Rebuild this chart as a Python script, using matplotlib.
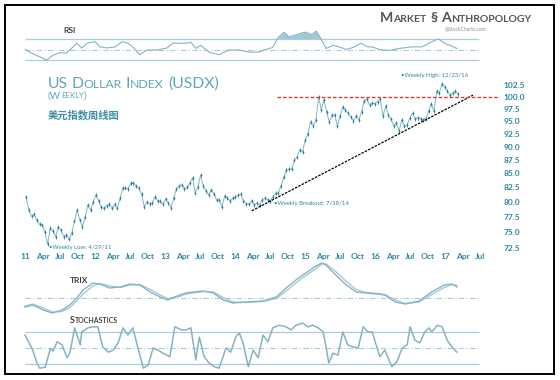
import numpy as np
import matplotlib
matplotlib.use('Agg')
import matplotlib.pyplot as plt
from matplotlib.patches import Rectangle
from matplotlib.ticker import FixedLocator, NullLocator, FixedFormatter

# ---------------- data ----------------
# US Dollar Index, bi-weekly closes starting 2011-01-07
price_start_day = 6          # day-of-year offset of first bar (Jan 7, 2011)
price_step_days = 14
usdx_close = [
    # 2011
    80.9, 78.6, 77.6, 77.9, 76.9, 76.3, 76.2, 75.0, 73.1, 75.7, 75.2, 74.3, 75.8,
    75.3, 74.3, 74.6, 73.9, 74.8, 76.8, 78.6, 77.0, 75.9, 77.5, 79.5, 78.6, 80.0,
    # 2012
    81.2, 80.2, 79.1, 78.9, 79.3, 79.6, 78.9, 79.6, 78.9, 80.6, 82.4, 82.4, 82.3,
    83.2, 83.3, 82.7, 82.4, 81.3, 79.2, 79.9, 79.7, 79.8, 80.9, 80.2, 80.1, 79.6,
    # 2013
    80.5, 79.8, 79.0, 80.7, 82.2, 82.7, 83.0, 82.2, 82.5, 83.3, 84.2, 81.6, 82.5,
    84.7, 82.7, 81.9, 81.2, 82.1, 81.4, 80.3, 80.4, 79.2, 81.0, 80.6, 80.2, 80.6,
    # 2014
    80.8, 81.2, 81.3, 80.2, 79.7, 79.6, 80.2, 79.5, 79.8, 79.4, 80.4, 80.6, 80.4,
    80.2, 80.9, 81.5, 81.5, 82.8, 84.3, 85.7, 85.8, 85.8, 87.5, 88.0, 89.4, 89.0,
    # 2015
    91.2, 92.5, 94.8, 94.1, 95.3, 100.0, 97.3, 99.4, 96.9, 94.8, 96.2, 96.3, 94.0,
    96.0, 97.9, 97.3, 96.6, 95.8, 95.1, 96.1, 95.2, 96.9, 99.2, 99.6, 98.3, 98.7,
    # 2016
    98.6, 99.0, 99.6, 96.0, 98.1, 96.2, 95.4, 94.1, 94.6, 93.0, 95.3, 94.0, 94.2,
    95.6, 96.6, 95.5, 95.7, 95.5, 95.3, 95.5, 97.0, 98.6, 97.1, 101.2, 100.8, 102.9,
    # 2017
    102.2, 101.3, 100.4, 100.8, 101.2, 100.6,
]

# trend line and resistance (date in decimal years, level)
trend_t = [2014.24, 2017.40]
trend_v = [78.5, 100.4]
resist_t = [2014.60, 2017.80]
resist_v = [100.0, 100.0]

# RSI
rsi_t = [2011.00, 2011.11, 2011.21, 2011.31, 2011.40, 2011.50, 2011.59, 2011.67, 2011.74,
         2011.81, 2011.89, 2012.00, 2012.07, 2012.17, 2012.29, 2012.39, 2012.47, 2012.54,
         2012.64, 2012.74, 2012.89, 2013.03, 2013.11, 2013.21, 2013.30, 2013.37, 2013.44,
         2013.51, 2013.63, 2013.77, 2013.91, 2014.06, 2014.20, 2014.33, 2014.44, 2014.54,
         2014.61, 2014.70, 2014.77, 2014.87, 2014.94, 2015.01, 2015.09, 2015.16, 2015.23,
         2015.30, 2015.40, 2015.49, 2015.59, 2015.69, 2015.80, 2015.90, 2015.96, 2016.06,
         2016.20, 2016.34, 2016.53, 2016.67, 2016.77, 2016.86, 2016.91, 2016.99, 2017.07,
         2017.17]
rsi_v = [50, 42, 36, 30, 39, 44, 43, 53, 62,
         53, 62, 65, 55, 53, 55, 65, 62, 55,
         40, 49, 49, 53, 62, 62, 62, 64, 52,
         58, 45, 40, 49, 49, 45, 45, 50, 54,
         72, 83, 74, 78, 81, 83, 78, 85, 70,
         52, 58, 55, 50, 54, 62, 55, 55, 50,
         48, 52, 55, 55, 62, 68, 70, 62, 58,
         52]

# TRIX and its signal line
trix_t = [2011.00, 2011.11, 2011.26, 2011.39, 2011.53, 2011.64, 2011.74, 2011.83, 2011.97,
          2012.07, 2012.21, 2012.36, 2012.50, 2012.64, 2012.79, 2012.93, 2013.04, 2013.21,
          2013.30, 2013.54, 2013.69, 2013.83, 2013.97, 2014.16, 2014.40, 2014.59, 2014.73,
          2014.87, 2015.01, 2015.16, 2015.24, 2015.30, 2015.44, 2015.59, 2015.73, 2015.87,
          2016.03, 2016.14, 2016.29, 2016.43, 2016.63, 2016.81, 2016.99, 2017.10, 2017.17]
trix_v = [-0.18, -0.14, -0.24, -0.30, -0.24, -0.14, 0.00, 0.16, 0.30,
          0.28, 0.20, 0.22, 0.28, 0.26, 0.12, 0.02, -0.04, 0.06,
          0.10, 0.14, 0.10, -0.04, -0.10, -0.08, -0.06, 0.02, 0.20,
          0.36, 0.50, 0.64, 0.70, 0.66, 0.46, 0.26, 0.12, 0.10,
          0.08, 0.06, -0.08, -0.12, -0.06, 0.12, 0.26, 0.28, 0.22]
trix_sig = [-0.16, -0.12, -0.20, -0.28, -0.27, -0.19, -0.06, 0.08, 0.24,
            0.29, 0.24, 0.21, 0.26, 0.27, 0.17, 0.06, -0.01, 0.03,
            0.08, 0.13, 0.12, 0.01, -0.08, -0.09, -0.07, -0.01, 0.14,
            0.30, 0.45, 0.59, 0.68, 0.68, 0.53, 0.33, 0.17, 0.11,
            0.09, 0.07, -0.04, -0.11, -0.08, 0.07, 0.21, 0.27, 0.25]

# Stochastics
sto_t = [2011.00, 2011.04, 2011.11, 2011.17, 2011.21, 2011.29, 2011.36, 2011.40, 2011.46,
         2011.53, 2011.60, 2011.64, 2011.71, 2011.79, 2011.81, 2011.90, 2011.97, 2012.04,
         2012.11, 2012.19, 2012.26, 2012.33, 2012.40, 2012.47, 2012.54, 2012.61, 2012.69,
         2012.76, 2012.83, 2012.90, 2012.97, 2013.07, 2013.14, 2013.24, 2013.30, 2013.37,
         2013.44, 2013.49, 2013.56, 2013.63, 2013.70, 2013.77, 2013.83, 2013.87, 2013.94,
         2014.01, 2014.06, 2014.11, 2014.19, 2014.26, 2014.33, 2014.40, 2014.47, 2014.54,
         2014.63, 2014.73, 2014.80, 2014.87, 2014.97, 2015.04, 2015.11, 2015.19, 2015.26,
         2015.30, 2015.34, 2015.40, 2015.47, 2015.54, 2015.61, 2015.69, 2015.76, 2015.83,
         2015.90, 2015.96, 2016.03, 2016.07, 2016.14, 2016.24, 2016.31, 2016.39, 2016.46,
         2016.50, 2016.57, 2016.64, 2016.71, 2016.77, 2016.81, 2016.89, 2016.96, 2017.03,
         2017.10, 2017.17]
sto_v = [75, 65, 46, 21, 11, 13, 48, 44, 62,
         56, 31, 40, 89, 56, 81, 89, 91, 91,
         52, 42, 46, 60, 89, 75, 89, 52, 11,
         17, 50, 46, 40, 33, 91, 85, 85, 89,
         27, 71, 33, 21, 14, 11, 33, 50, 42,
         71, 79, 62, 14, 46, 31, 75, 62, 89,
         94, 91, 85, 94, 98, 91, 94, 89, 81,
         52, 21, 40, 36, 81, 56, 52, 50, 91,
         81, 81, 50, 33, 46, 14, 23, 50, 56,
         91, 65, 60, 81, 89, 81, 94, 91, 65,
         52, 42]

x_labels = ['11', 'Apr', 'Jul', 'Oct', '12', 'Apr', 'Jul', 'Oct', '13', 'Apr', 'Jul', 'Oct',
            '14', 'Apr', 'Jul', 'Oct', '15', 'Apr', 'Jul', 'Oct', '16', 'Apr', 'Jul', 'Oct',
            '17', 'Apr', 'Jul']
y_ticks = [72.5, 75.0, 77.5, 80.0, 82.5, 85.0, 87.5, 90.0, 92.5, 95.0, 97.5, 100.0, 102.5]

# ---------------- layout helpers ----------------
W, H = 560, 380
fig = plt.figure(figsize=(W / 100, H / 100), dpi=100)
fig.patch.set_facecolor('white')

TEAL = '#2d86a3'
TITLE = '#5fa6bb'
PRICE = '#4a98b1'
IND = '#86b3c3'
REF = '#a9cdd9'
LABEL = '#404040'
FONT = 'Lato'


def t_of_px(px):
    return 2011 + (px - 25) / 70.0


XL = (t_of_px(20), t_of_px(500))


def add_ax(x0, y0, x1, y1):
    ax = fig.add_axes([x0 / W, 1 - y1 / H, (x1 - x0) / W, (y1 - y0) / H])
    ax.set_facecolor('none')
    for s in ax.spines.values():
        s.set_visible(False)
    ax.set_xlim(XL)
    ax.tick_params(left=False, bottom=False, labelleft=False, labelbottom=False)
    return ax


def ftext(x, y, s, **kw):
    return fig.text(x / W, 1 - y / H, s, **kw)


renderer = fig.canvas.get_renderer()


def smallcaps(x, y, parts, big, small, color, weight='normal', family=FONT):
    cx = x
    for p in parts:
        if isinstance(p, (int, float)):
            cx += p
            continue
        s, isbig = p
        t = ftext(cx, y, s, fontsize=big if isbig else small, color=color,
                  va='baseline', ha='left', fontweight=weight, family=family)
        bb = t.get_window_extent(renderer=renderer)
        cx += bb.width


# ---------------- RSI panel ----------------
ax_rsi = add_ax(20, 30, 500, 66)
rsi_lo_v = 30 - (66 - 60) * 40 / 21
rsi_hi_v = 70 + (39 - 30) * 40 / 21
ax_rsi.set_ylim(rsi_lo_v, rsi_hi_v)
x_end = t_of_px(479)
ax_rsi.hlines([30, 70], 2011.0, x_end, color=REF, lw=0.9)
ax_rsi.hlines([50], 2011.0, x_end, color=REF, lw=0.8, linestyles=(0, (5, 2, 1, 2)))
rv = np.array(rsi_v, dtype=float)
ax_rsi.fill_between(rsi_t, 70, rv, where=rv > 70, interpolate=True, color='#a3c7d3', lw=0)
ax_rsi.plot(rsi_t, rsi_v, color=IND, lw=0.8)

# ---------------- main price panel ----------------
ax = add_ax(20, 65, 500, 250)
ax.set_yscale('log')
ax.set_ylim(100 * np.exp((97 - 250) / 470), 100 * np.exp((97 - 65) / 470))
pt = 2011 + (price_start_day + price_step_days * np.arange(len(usdx_close))) / 365.25
ax.plot(pt, usdx_close, color=PRICE, lw=0.7, alpha=0.7)
ax.plot(pt, usdx_close, ls='none', marker='|', ms=3.5, mew=0.7, color=PRICE)
ax.plot(pt, usdx_close, ls='none', marker='o', ms=1.3, mew=0, color='#2a7892')
ax.plot(trend_t, trend_v, color='black', lw=0.9, ls=(0, (2, 1)))
ax.plot(resist_t, resist_v, color='#e2352f', lw=1.0, ls=(0, (2.5, 1.5)))

ax.yaxis.tick_right()
ax.tick_params(right=False, labelright=True, labelbottom=True, length=0, pad=2.5)
ax.yaxis.set_major_locator(FixedLocator(y_ticks))
ax.yaxis.set_major_formatter(FixedFormatter(['%.1f' % v for v in y_ticks]))
ax.yaxis.set_minor_locator(NullLocator())
x_ticks = [2011 + 0.25 * i for i in range(len(x_labels))]
ax.xaxis.set_major_locator(FixedLocator(x_ticks))
ax.xaxis.set_major_formatter(FixedFormatter(x_labels))
for lab in ax.get_xticklabels() + ax.get_yticklabels():
    lab.set_fontsize(6.0)
    lab.set_fontweight('bold')
    lab.set_color(TEAL)
    lab.set_family(FONT)
for lab in ax.get_yticklabels():
    lab.set_ha('left')

# ---------------- TRIX panel ----------------
ax_tr = add_ax(20, 260, 500, 318)
ax_tr.set_ylim((298 - 318) * 0.02, (298 - 260) * 0.02)
ax_tr.hlines([0], 2011.0, x_end, color=REF, lw=0.8, linestyles=(0, (5, 2, 1, 2)))
ax_tr.plot(trix_t, trix_sig, color='#a6c9d5', lw=1.0)
ax_tr.plot(trix_t, trix_v, color=IND, lw=1.0)

# ---------------- Stochastics panel ----------------
ax_st = add_ax(20, 318, 500, 374)
ax_st.set_ylim(50 - 26 / 0.517, 50 + 30 / 0.517)
ax_st.hlines([20, 80], 2011.0, x_end, color=REF, lw=0.9)
ax_st.hlines([50], 2011.0, x_end, color=REF, lw=0.8, linestyles=(0, (5, 2, 1, 2)))
ax_st.plot(sto_t, sto_v, color=IND, lw=1.1)

# ---------------- texts ----------------
smallcaps(48, 88, [('US', True), 3.5, ('D', True), ('OLLAR', False), 4, ('I', True),
                   ('NDEX', False), 4, ('(USDX)', True)], 11.3, 8.8, TITLE)
smallcaps(48, 98.5, [('(W', True), ('EEKLY', False), (')', True)], 7.2, 5.6, TITLE)
ftext(48, 115, '美元指数周线图', fontsize=7.4, fontweight='bold', color='#3d8ea8',
      family=['Noto Sans CJK SC', 'DejaVu Sans'], va='center', ha='left')

smallcaps(380, 22, [('M', True), ('ARKET', False), 4, ('§', True), 4, ('A', True),
                    ('NTHROPOLOGY', False)], 10.2, 7.5, '#555555', weight='bold')
ftext(466, 29, '@StockCharts.com', fontsize=3.6, color='#8a8a8a', ha='center', va='center',
      family=FONT)

ftext(63, 33, 'RSI', fontsize=6.0, color=LABEL, ha='left', va='baseline', family=FONT,
      fontweight='bold')
ftext(70, 283, 'TRIX', fontsize=6.0, color=LABEL, ha='left', va='baseline', family=FONT,
      fontweight='bold')
smallcaps(70, 323, [('S', True), ('TOCHASTICS', False)], 6.4, 5.0, LABEL, weight='bold')

ftext(401, 75, '\u2022Weekly High: 12/23/16', fontsize=4.3, color=TEAL, ha='left',
      va='center', family=FONT)
ftext(274, 203, '\u2022Weekly Breakout: 7/18/14', fontsize=4.3, color=TEAL, ha='left',
      va='center', family=FONT)
ftext(49, 247, '\u2022Weekly Low: 4/29/11', fontsize=4.3, color=TEAL, ha='left',
      va='center', family=FONT)

# outer frame
fig.patches.append(Rectangle((5 / W, 1 - 374 / H), 549 / W, 369 / H, transform=fig.transFigure,
                             fill=False, edgecolor='black', lw=1.4))

fig.savefig('out.png', dpi=100, facecolor='white')
